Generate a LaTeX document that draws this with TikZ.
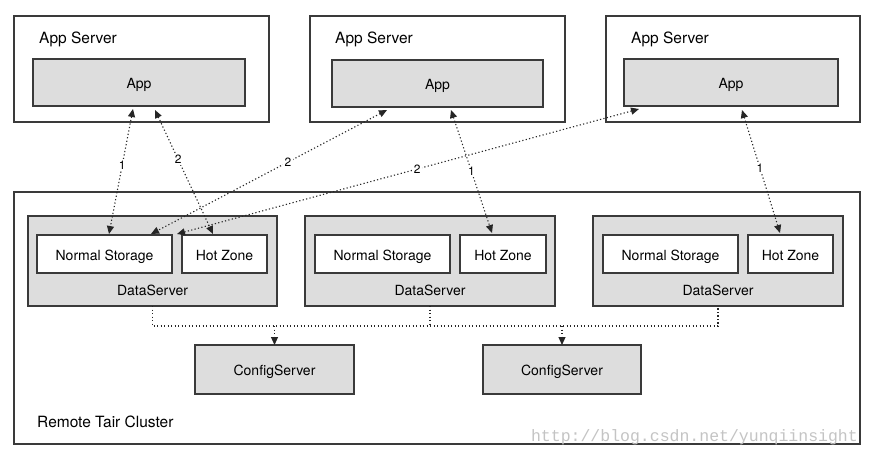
\documentclass[tikz,border=0pt]{standalone}
\usepackage{fontspec}
\setmainfont{TeX Gyre Heros}
\newfontfamily\wmfont{Liberation Mono}
\usetikzlibrary{arrows.meta,calc}
\definecolor{boxgray}{HTML}{DDDDDD}
\definecolor{edge}{HTML}{3A3A3A}
\definecolor{wm}{HTML}{C4C4C4}
\begin{document}
\begin{tikzpicture}[x=1pt,y=-1pt,
  outerbox/.style={draw=edge,line width=1.1pt,fill=white,inner sep=0pt,outer sep=0pt},
  graybox/.style={draw=edge,line width=1.1pt,fill=boxgray,inner sep=0pt,outer sep=0pt,text height=12pt,text depth=0pt,font=\fontsize{14}{16}\selectfont},
  whitebox/.style={draw=edge,line width=1.1pt,fill=white,inner sep=0pt,outer sep=0pt,text height=12pt,text depth=0pt,font=\fontsize{14}{16}\selectfont},
  title/.style={inner sep=0pt,font=\fontsize{15.5}{18}\selectfont},
  boxlabel/.style={inner sep=0pt,font=\fontsize{14}{16}\selectfont},
  dotline/.style={draw=black!85,line width=1.1pt,dash pattern=on 1.2pt off 2.3pt},
  tip/.style={-{Triangle[length=8pt,width=7pt]}},
  bitip/.style={{Triangle[length=8pt,width=7pt]}-{Triangle[length=8pt,width=7pt]}},
  num/.style={fill=white,inner sep=1.5pt,font=\fontsize{12}{13}\selectfont}
]
\useasboundingbox (0,0) rectangle (871,455);
\fill[white] (0,0) rectangle (871,455);

% App servers
\node[outerbox,minimum width=255pt,minimum height=106pt] (AS1) at (141.5,69) {};
\node[outerbox,minimum width=255pt,minimum height=106pt] (AS2) at (437.5,69) {};
\node[outerbox,minimum width=254pt,minimum height=106pt] (AS3) at (733,69) {};
\node[title,anchor=base west] (AST1) at (39,43.5) {App Server};
\node[title,anchor=base west] (AST2) at (335,43.5) {App Server};
\node[title,anchor=base west] (AST3) at (631,43.5) {App Server};
\node[graybox,minimum width=212pt,minimum height=47pt] (App1) at (139,82.5) {App};
\node[graybox,minimum width=211pt,minimum height=47pt] (App2) at (437.5,83.5) {App};
\node[graybox,minimum width=214pt,minimum height=47pt] (App3) at (731,82.5) {App};

% Cluster
\node[outerbox,minimum width=846pt,minimum height=252pt] (Cl) at (437,318) {};
\node[title,anchor=base west] (ClT) at (37,427) {Remote Tair Cluster};

\node[graybox,minimum width=249pt,minimum height=90pt] (DS1) at (152.5,261) {};
\node[graybox,minimum width=250pt,minimum height=90pt] (DS2) at (430,261) {};
\node[graybox,minimum width=250pt,minimum height=90pt] (DS3) at (718,261) {};
\node[boxlabel,anchor=base] (DSL1) at (152.5,295.5) {DataServer};
\node[boxlabel,anchor=base] (DSL2) at (430,295.5) {DataServer};
\node[boxlabel,anchor=base] (DSL3) at (718,295.5) {DataServer};

\node[whitebox,minimum width=135pt,minimum height=38pt] (NS1) at (104.5,254) {Normal Storage};
\node[whitebox,minimum width=85pt,minimum height=38pt] (HZ1) at (224.5,254) {Hot Zone};
\node[whitebox,minimum width=135pt,minimum height=38pt] (NS2) at (382.5,254) {Normal Storage};
\node[whitebox,minimum width=86pt,minimum height=38pt] (HZ2) at (503,254) {Hot Zone};
\node[whitebox,minimum width=135pt,minimum height=38pt] (NS3) at (670.5,254) {Normal Storage};
\node[whitebox,minimum width=85pt,minimum height=38pt] (HZ3) at (790.5,254) {Hot Zone};

\node[graybox,minimum width=159pt,minimum height=49pt] (CS1) at (274.5,369.5) {ConfigServer};
\node[graybox,minimum width=158pt,minimum height=49pt] (CS2) at (562,369.5) {ConfigServer};

% bus between data servers and config servers
\coordinate (bus) at (152.5,326);
\draw[dotline] (DS1.south) -- (DS1.south |- bus) -| (DS3.south);
\draw[dotline] (DS2.south) -- (DS2.south |- bus);
\draw[dotline,tip] (CS1.north |- bus) -- (CS1.north);
\draw[dotline,tip] (CS2.north |- bus) -- (CS2.north);

% access arrows
\draw[dotline,bitip] ($(App1.south west)+(100,3)$) -- node[num,pos=.45] {1} ($(NS1.north west)+(72,-1)$);
\draw[dotline,bitip] ($(App1.south west)+(122,4)$) -- node[num,pos=.4] {2} ($(HZ1.north west)+(31,-1)$);
\draw[dotline,bitip] ($(App2.south west)+(55,3)$) -- node[num,pos=.42] {2} ($(NS1.north west)+(114,-1)$);
\draw[dotline,bitip] ($(App3.south west)+(15,3)$) -- node[num,pos=.48] {2} ($(NS1.north east)+(5,-1)$);
\draw[dotline,bitip] ($(App2.south west)+(119,3)$) -- node[num,pos=.5] {1} ($(HZ2.north west)+(32,-2)$);
\draw[dotline,bitip] ($(App3.south west)+(118,4)$) -- node[num,pos=.47] {1} ($(HZ3.north west)+(32,-2)$);

% watermark
\node[inner sep=0pt,anchor=base east,text=wm,font=\wmfont\fontsize{16.5}{18}\selectfont] (WM) at (858,441) {http://blog.csdn.net/yunqiinsight};
\end{tikzpicture}
\end{document}
